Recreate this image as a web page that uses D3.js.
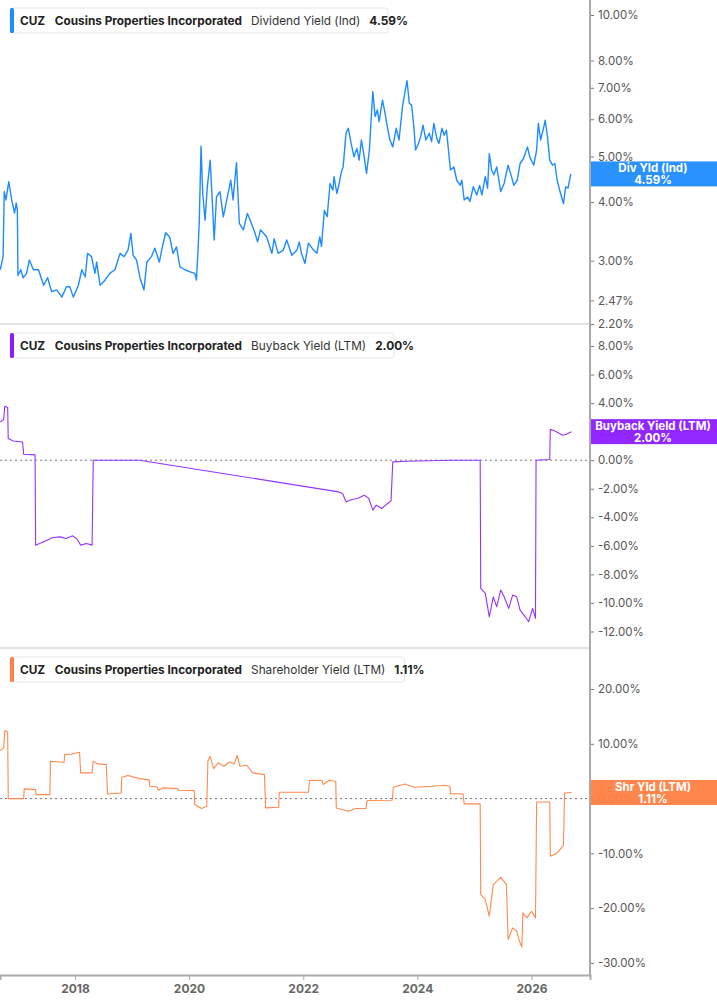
<!DOCTYPE html>
<html>
<head>
<meta charset="utf-8">
<script src="https://cdn.jsdelivr.net/npm/d3@7"></script>
<style>
  body { margin: 0; background: #fff; }
  svg { display: block; font-family: Inter, "Noto Sans", sans-serif; }
</style>
</head>
<body>
<svg id="chart" width="717" height="1005"></svg>
<script>
// values, [decimal year, percent]
var divYield = [[2016.69,2.87],[2016.74,3.06],[2016.76,4.21],[2016.79,4.04],[2016.84,4.42],[2016.89,4.04],[2016.94,3.79],[2016.97,3.98],[2016.99,3.84],[2017.00,2.79],[2017.05,2.87],[2017.09,2.76],[2017.15,2.82],[2017.20,3.01],[2017.27,2.87],[2017.36,2.87],[2017.45,2.66],[2017.52,2.76],[2017.59,2.58],[2017.68,2.60],[2017.77,2.51],[2017.85,2.64],[2017.91,2.64],[2017.97,2.51],[2018.06,2.66],[2018.12,2.87],[2018.18,2.77],[2018.22,3.11],[2018.29,3.06],[2018.35,2.82],[2018.38,2.98],[2018.44,2.66],[2018.53,2.73],[2018.61,2.82],[2018.70,2.87],[2018.79,3.11],[2018.86,3.06],[2018.93,3.16],[2018.98,3.43],[2019.02,3.08],[2019.08,3.01],[2019.14,2.76],[2019.21,2.60],[2019.26,2.98],[2019.34,3.06],[2019.40,3.19],[2019.48,2.98],[2019.52,3.16],[2019.59,3.44],[2019.66,3.37],[2019.72,3.11],[2019.78,3.21],[2019.84,2.91],[2019.93,2.87],[2020.02,2.84],[2020.10,2.82],[2020.13,2.73],[2020.16,3.21],[2020.18,3.66],[2020.21,5.26],[2020.24,4.17],[2020.28,3.66],[2020.32,4.31],[2020.37,4.91],[2020.40,4.17],[2020.44,3.32],[2020.48,4.10],[2020.54,4.21],[2020.60,3.72],[2020.66,4.04],[2020.73,4.45],[2020.77,4.04],[2020.83,4.85],[2020.88,3.60],[2020.95,3.49],[2021.02,3.78],[2021.08,3.63],[2021.15,3.45],[2021.20,3.29],[2021.25,3.49],[2021.36,3.37],[2021.45,3.11],[2021.49,3.34],[2021.56,3.11],[2021.65,3.16],[2021.71,3.32],[2021.80,3.08],[2021.89,3.16],[2021.93,3.29],[2021.97,3.11],[2022.03,2.96],[2022.09,3.27],[2022.18,3.16],[2022.24,3.11],[2022.29,3.37],[2022.32,3.22],[2022.37,3.84],[2022.42,3.72],[2022.47,4.38],[2022.52,4.24],[2022.54,4.53],[2022.59,4.17],[2022.63,4.38],[2022.67,4.64],[2022.70,4.75],[2022.75,5.60],[2022.79,5.74],[2022.84,5.33],[2022.89,4.99],[2022.94,5.20],[2022.98,4.91],[2023.02,5.42],[2023.06,5.07],[2023.11,4.60],[2023.16,5.16],[2023.18,5.69],[2023.22,6.87],[2023.26,6.08],[2023.30,6.28],[2023.33,5.93],[2023.39,6.59],[2023.43,6.22],[2023.48,5.74],[2023.52,5.42],[2023.57,5.24],[2023.63,5.74],[2023.68,5.42],[2023.74,6.38],[2023.78,6.81],[2023.82,7.25],[2023.86,6.49],[2023.90,6.43],[2023.94,5.78],[2023.97,5.16],[2024.02,5.33],[2024.06,5.51],[2024.10,5.83],[2024.15,5.42],[2024.21,5.60],[2024.25,5.38],[2024.29,5.88],[2024.34,5.47],[2024.38,5.33],[2024.43,5.74],[2024.47,5.55],[2024.51,5.69],[2024.54,5.24],[2024.58,4.68],[2024.64,4.75],[2024.69,4.45],[2024.75,4.34],[2024.78,4.45],[2024.82,4.04],[2024.88,4.10],[2024.92,4.01],[2024.98,4.31],[2025.04,4.14],[2025.09,4.34],[2025.13,4.14],[2025.19,4.53],[2025.23,4.28],[2025.26,5.07],[2025.30,4.68],[2025.34,4.57],[2025.39,4.75],[2025.46,4.21],[2025.52,4.38],[2025.59,4.79],[2025.65,4.53],[2025.69,4.34],[2025.75,4.45],[2025.80,4.83],[2025.86,4.95],[2025.93,5.24],[2025.97,4.99],[2026.04,4.79],[2026.09,5.16],[2026.12,5.88],[2026.16,5.42],[2026.21,5.74],[2026.24,5.97],[2026.28,5.51],[2026.32,4.91],[2026.37,4.79],[2026.41,4.83],[2026.45,4.45],[2026.50,4.21],[2026.56,3.97],[2026.60,4.31],[2026.64,4.28],[2026.69,4.59]];

var buybackYield = [[2016.69,2.68],[2016.75,2.85],[2016.77,3.78],[2016.82,3.69],[2016.83,1.52],[2016.92,1.35],[2017.08,1.28],[2017.10,0.42],[2017.30,0.37],[2017.31,-5.95],[2017.41,-5.79],[2017.51,-5.60],[2017.61,-5.41],[2017.74,-5.37],[2017.84,-5.48],[2017.96,-5.30],[2018.04,-5.55],[2018.10,-5.95],[2018.20,-5.83],[2018.30,-5.95],[2018.32,0],[2019.13,0],[2022.62,-2.22],[2022.69,-2.33],[2022.75,-2.92],[2022.85,-2.75],[2022.95,-2.68],[2023.07,-2.45],[2023.15,-2.68],[2023.22,-3.50],[2023.28,-3.15],[2023.38,-3.38],[2023.48,-3.03],[2023.54,-2.85],[2023.57,-0.12],[2023.81,-0.07],[2024.60,0],[2025.10,0],[2025.11,-8.98],[2025.19,-9.33],[2025.26,-10.97],[2025.33,-9.57],[2025.39,-10.27],[2025.46,-9.10],[2025.52,-9.57],[2025.60,-10.38],[2025.67,-9.45],[2025.74,-9.57],[2025.80,-10.50],[2025.89,-10.97],[2025.95,-11.32],[2026.02,-10.38],[2026.07,-11.08],[2026.08,0],[2026.32,0.05],[2026.33,2.17],[2026.41,2.05],[2026.55,1.75],[2026.61,1.82],[2026.70,2.00]];

var shareholderYield = [[2016.69,8.76],[2016.75,9.25],[2016.77,12.41],[2016.82,12.17],[2016.83,0],[2017.10,0],[2017.11,1.77],[2017.31,1.64],[2017.32,0.73],[2017.56,0.73],[2017.57,6.81],[2017.81,6.62],[2017.82,8.03],[2017.94,8.15],[2018.08,8.45],[2018.10,4.69],[2018.30,4.69],[2018.32,6.81],[2018.40,6.33],[2018.55,6.20],[2018.57,0.85],[2018.81,1.03],[2018.82,3.89],[2018.93,4.20],[2019.13,3.65],[2019.30,3.41],[2019.31,2.25],[2019.44,2.13],[2019.46,1.52],[2019.54,1.95],[2019.80,1.82],[2019.82,1.52],[2020.09,1.46],[2020.10,-1.09],[2020.22,-1.82],[2020.31,-1.40],[2020.33,6.81],[2020.37,7.72],[2020.43,5.47],[2020.51,6.51],[2020.61,5.90],[2020.71,6.69],[2020.79,6.33],[2020.84,7.91],[2020.89,5.90],[2021.01,6.08],[2021.11,4.69],[2021.32,4.38],[2021.34,-1.70],[2021.57,-1.58],[2021.58,1.16],[2022.09,1.16],[2022.11,3.35],[2022.33,3.29],[2022.35,2.55],[2022.45,3.29],[2022.57,3.17],[2022.58,-1.70],[2022.79,-2.31],[2022.92,-1.82],[2023.10,-1.82],[2023.12,-0.36],[2023.56,-0.30],[2023.58,2.07],[2023.78,2.68],[2023.94,2.07],[2024.27,2.25],[2024.47,2.43],[2024.57,2.25],[2024.58,0.91],[2024.80,0.85],[2024.82,-0.97],[2025.10,-0.97],[2025.11,-17.52],[2025.19,-18.43],[2025.26,-21.47],[2025.33,-15.69],[2025.39,-15.09],[2025.46,-14.36],[2025.56,-15.69],[2025.59,-25.73],[2025.67,-23.6],[2025.74,-24.2],[2025.79,-26.04],[2025.83,-27.1],[2025.85,-20.86],[2025.92,-21.77],[2026.00,-20.56],[2026.07,-21.77],[2026.09,-0.61],[2026.32,-0.61],[2026.33,-10.52],[2026.45,-9.91],[2026.56,-8.52],[2026.58,1.03],[2026.70,1.11]];

var divTicks = [2.2, 2.47, 3, 4, 5, 6, 7, 8, 10];
var buybackTicks = [-12, -10, -8, -6, -4, -2, 0, 2, 4, 6, 8];
var shrTicks = [-30, -20, -10, 0, 10, 20];
var yearTicks = [2018, 2020, 2022, 2024, 2026];

var ticker = "CUZ", company = "Cousins Properties Incorporated";

var panels = [
  { metric: "Dividend Yield (Ind)", short: "Div Yld (Ind)", last: 4.59, data: divYield,
    ticks: divTicks, color: "#1e8cff", box: "#1e8cff", top: 0, zero: false },
  { metric: "Buyback Yield (LTM)", short: "Buyback Yield (LTM)", last: 2.00, data: buybackYield,
    ticks: buybackTicks, color: "#9434ff", box: "#8c1cff", top: 324, zero: true },
  { metric: "Shareholder Yield (LTM)", short: "Shr Yld (LTM)", last: 1.11, data: shareholderYield,
    ticks: shrTicks, color: "#ff8a4e", box: "#ff8145", top: 648, zero: true }
];

function toDate(y) {
  var yr = Math.floor(y);
  var a = Date.UTC(yr, 0, 1), b = Date.UTC(yr + 1, 0, 1);
  return new Date(a + (y - yr) * (b - a));
}

var W = 590;
var svg = d3.select("#chart");

var x = d3.scaleUtc().domain([toDate(2016.686), toDate(2027.026)]).range([0, W]);

panels[0].y = d3.scaleLog().domain([2.2, 10]).range([324, 15]);
panels[1].y = d3.scaleLinear().domain([-12, 8]).range([631.5, 346]);
panels[2].y = d3.scaleLinear().domain([-30, 20]).range([963, 689]);

var fmt = function(d) { return d.toFixed(2) + "%"; };

// separators / frame
svg.append("line").attr("x1", 0).attr("x2", W).attr("y1", 324).attr("y2", 324).attr("stroke", "#c8c8c8");
svg.append("line").attr("x1", 0).attr("x2", W).attr("y1", 648).attr("y2", 648).attr("stroke", "#c8c8c8");

panels.forEach(function(p) {
  var g = svg.append("g");

  if (p.zero) {
    g.append("line")
      .attr("x1", 0).attr("x2", W)
      .attr("y1", p.y(0)).attr("y2", p.y(0))
      .attr("stroke", "#777").attr("stroke-dasharray", "2,3");
  }

  var line = d3.line()
    .x(function(d) { return x(toDate(d[0])); })
    .y(function(d) { return p.y(d[1]); });

  g.append("path")
    .datum(p.data)
    .attr("fill", "none")
    .attr("stroke", p.color)
    .attr("stroke-width", p.top === 0 ? 1.4 : 1.1)
    .attr("stroke-linejoin", "round")
    .attr("d", line);

  var ax = g.append("g")
    .attr("transform", "translate(" + W + ",0)")
    .call(d3.axisRight(p.y).tickValues(p.ticks).tickFormat(fmt).tickSize(4).tickPadding(4));
  ax.select(".domain").remove();
  ax.selectAll(".tick line").attr("stroke", "#777");
  ax.selectAll(".tick text")
    .attr("fill", "#555")
    .style("font-size", "11.5px")
    .style("font-family", "Inter, sans-serif");

  // header legend
  var hy = p.top + (p.top === 0 ? 8 : 9);
  var hg = g.append("g");
  var rect = hg.append("rect")
    .attr("x", 10).attr("y", hy).attr("height", 25).attr("rx", 3)
    .attr("fill", "#fff").attr("stroke", "#e6e6e6");
  hg.append("rect")
    .attr("x", 10).attr("y", hy).attr("width", 4).attr("height", 25).attr("rx", 1.5)
    .attr("fill", p.box);
  var t = hg.append("text")
    .attr("x", 20).attr("y", hy + 17)
    .style("font-size", "11.8px").attr("fill", "#222");
  t.append("tspan").attr("font-weight", 700).text(ticker);
  t.append("tspan").attr("dx", 10).attr("font-weight", 700).text(company);
  t.append("tspan").attr("dx", 9).attr("font-weight", 400).attr("fill", "#333").text(p.metric);
  t.append("tspan").attr("dx", 9).attr("font-weight", 700).text(fmt(p.last));
  var tw = t.node().getComputedTextLength();
  rect.attr("width", tw + 18);

  // last value label
  var cy = p.y(p.last);
  g.append("rect")
    .attr("x", W).attr("y", cy - 12.5).attr("width", 717 - W).attr("height", 25)
    .attr("fill", p.box).attr("opacity", 0.95);
  g.append("text")
    .attr("x", W + 63).attr("y", cy - 2).attr("text-anchor", "middle")
    .attr("fill", "#fff").attr("font-weight", 700).style("font-size", "11.5px")
    .text(p.short);
  g.append("text")
    .attr("x", W + 63).attr("y", cy + 10).attr("text-anchor", "middle")
    .attr("fill", "#fff").attr("font-weight", 700).style("font-size", "11.5px")
    .text(fmt(p.last));
});

// right axis line
svg.append("line").attr("x1", W).attr("x2", W).attr("y1", 0).attr("y2", 975)
  .attr("stroke", "#aaa").attr("stroke-width", 2);

// bottom time axis
var xa = svg.append("g")
  .attr("transform", "translate(0,975)")
  .call(d3.axisBottom(x).tickValues(yearTicks.map(toDate)).tickFormat(d3.utcFormat("%Y")).tickSize(5).tickPadding(4));
xa.select(".domain").attr("stroke", "#aaa").attr("stroke-width", 2);
xa.selectAll(".tick line").attr("stroke", "#aaa");
xa.selectAll(".tick text")
  .attr("fill", "#666").attr("font-weight", 700)
  .style("font-size", "12px").style("font-family", "Inter, sans-serif");
</script>
</body>
</html>
